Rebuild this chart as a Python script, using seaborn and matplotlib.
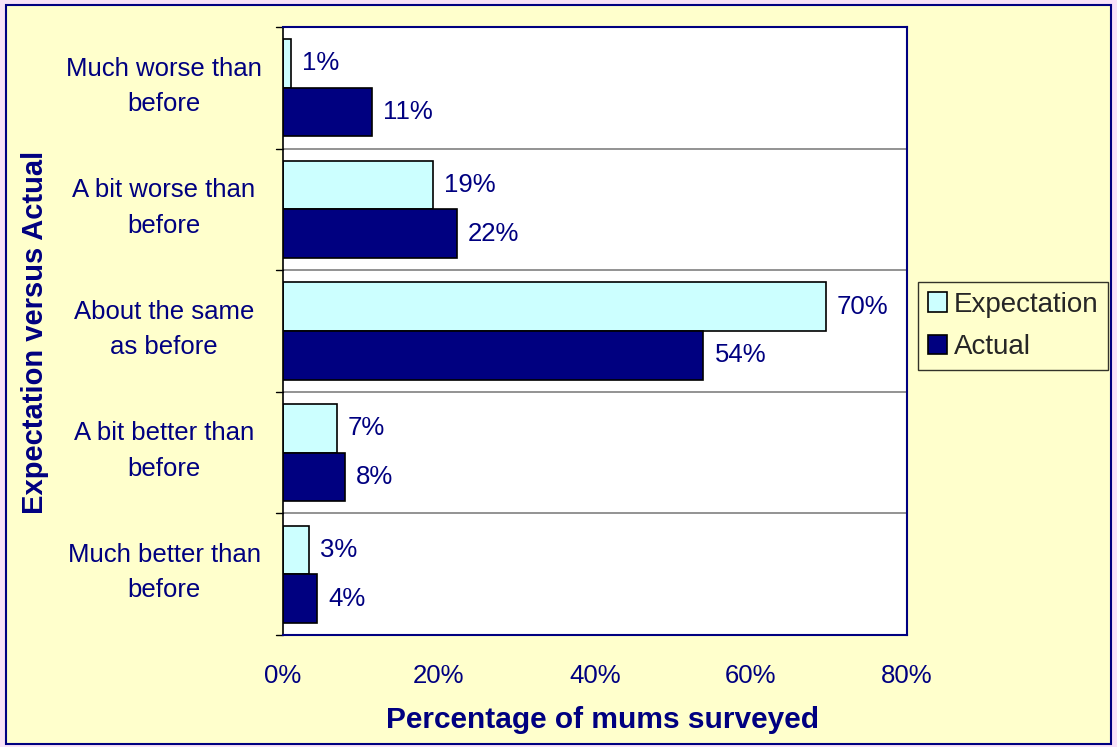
import matplotlib
matplotlib.use("Agg")
import matplotlib.pyplot as plt
import matplotlib.transforms as mtransforms
import numpy as np
import pandas as pd
import seaborn as sns
from matplotlib.patches import Rectangle

categories = [
    "Much worse than\nbefore",
    "A bit worse than\nbefore",
    "About the same\nas before",
    "A bit better than\nbefore",
    "Much better than\nbefore",
]
expectation = [1.0, 19.2, 69.6, 6.9, 3.3]
actual = [11.4, 22.3, 53.9, 7.9, 4.4]
series = ["Expectation", "Actual"]
x_ticks = [0, 20, 40, 60, 80]

NAVY = "#000080"
CYAN = "#CCFFFF"
BG = "#FFFFCC"
FS = 18.5

df = pd.DataFrame({
    "category": categories * 2,
    "series": [series[0]] * len(categories) + [series[1]] * len(categories),
    "value": expectation + actual,
})

sns.set_style("white")
plt.rcParams["font.family"] = ["Liberation Sans", "DejaVu Sans"]

fig = plt.figure(figsize=(11.17, 7.47), dpi=100, facecolor="#F8E2F8")
fig.patches.append(Rectangle((6 / 1117, 0.004), 1 - 12 / 1117, 1 - 8 / 747,
                             transform=fig.transFigure, facecolor=BG,
                             edgecolor=NAVY, linewidth=1.5, zorder=-10))
ax = fig.add_axes([283 / 1117, 1 - 635 / 747, 624 / 1117, 608 / 747])

sns.barplot(data=df, y="category", x="value", hue="series", orient="h",
            palette=[CYAN, NAVY], saturation=1, edgecolor="black",
            linewidth=1.2, width=0.8, ax=ax, legend=True)

# etiquetas de valor al final de cada barra
for cont, vals in zip(ax.containers, [expectation, actual]):
    ax.bar_label(cont, labels=[f"{round(v):.0f}%" for v in vals], padding=8,
                 color=NAVY, fontsize=FS)

ax.set_xlim(0, 80)
ax.set_ylim(len(categories) - 0.5, -0.5)
ax.set_xticks(x_ticks)
ax.set_xticklabels([f"{t}%" for t in x_ticks], color=NAVY, fontsize=FS)
ax.set_yticks(np.arange(len(categories)))
ax.set_yticklabels([])
ax.tick_params(axis="y", length=0)
ax.tick_params(axis="x", length=6, width=1, color="black", pad=15, direction="out")

# etiquetas de categoria a mano, un poco por encima del centro (como Excel)
shift = mtransforms.ScaledTranslation(0, 1.5 / 100, fig.dpi_scale_trans)
for i, cat in enumerate(categories):
    ax.text(-119 / 624, i, cat, transform=ax.get_yaxis_transform() + shift,
            ha="center", va="center", color=NAVY, fontsize=FS,
            linespacing=1.6)

# lineas divisorias entre categorias
for b in np.arange(0.5, len(categories) - 0.5, 1):
    ax.axhline(b, color="#808080", linewidth=1.2, zorder=0)
for b in np.arange(-0.5, len(categories), 1):
    ax.plot([-0.012, 0], [b, b], transform=ax.get_yaxis_transform(),
            color="black", linewidth=1, clip_on=False)

ax.set_facecolor("white")
for side in ["top", "right", "bottom"]:
    ax.spines[side].set_color(NAVY)
    ax.spines[side].set_linewidth(1.5)
ax.spines["left"].set_color("black")
ax.spines["left"].set_linewidth(1.2)

ax.set_xlabel("")
ax.set_ylabel("")
fig.text(603 / 1117, 1 - 720 / 747, "Percentage of mums surveyed", color=NAVY,
         fontsize=21.5, fontweight="bold", ha="center", va="center")
fig.text(35 / 1117, 1 - 332 / 747, "Expectation versus Actual", color=NAVY,
         fontsize=21, fontweight="bold", ha="center", va="center",
         rotation=90)

leg = ax.legend(loc="upper left", bbox_to_anchor=(918 / 1117, 1 - 282 / 747),
                bbox_transform=fig.transFigure, frameon=True, fancybox=False,
                fontsize=20, handlelength=0.7, handleheight=0.7,
                handletextpad=0.25, borderpad=0.35, labelspacing=0.6,
                borderaxespad=0)
leg.get_frame().set_edgecolor("black")
leg.get_frame().set_facecolor(BG)
leg.get_frame().set_linewidth(1)

fig.savefig("out.png", dpi=100, facecolor=fig.get_facecolor())
